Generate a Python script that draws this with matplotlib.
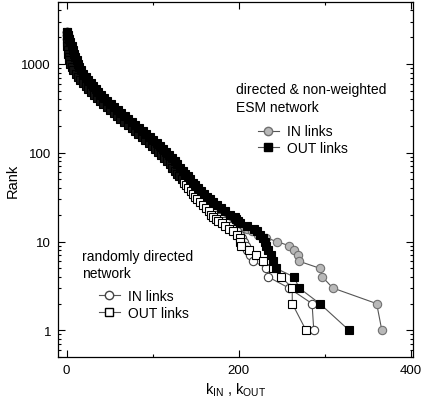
import matplotlib
matplotlib.use("Agg")
import matplotlib.pyplot as plt
from matplotlib.lines import Line2D
from matplotlib.ticker import FixedLocator, FixedFormatter, LogLocator, NullFormatter

plt.rcParams['font.family'] = ['Liberation Sans', 'DejaVu Sans']

#%% data: rank vs degree
# shared rank grid for the dense part of the curve
rank_dense = [2300, 2100, 1900, 1750, 1600, 1450, 1300, 1200, 1100, 1000,
              920, 850, 780, 720, 660, 610, 560, 520, 480, 445,
              410, 380, 350, 325, 300, 280, 260, 240, 222, 205,
              190, 175, 162, 150, 139, 128, 118, 110, 102, 94,
              87, 80, 74, 68, 63, 58, 54, 50, 46, 43,
              40, 37, 34, 32, 30, 28, 26, 24, 22, 20]
# tail ranks 19 .. 1
rank_tail = [19, 18, 17, 16, 15, 14, 13, 12, 11, 10, 9, 8, 7, 6, 5, 4, 3, 2, 1]

# directed & non-weighted ESM network
esm_in_dense = [0.5, 1.3, 2.2, 3.2, 4.5, 5.8, 7.2, 8.2, 9.5, 11,
                12.5, 14.5, 17, 19.5, 22.5, 25.5, 28.5, 31.5, 34.5, 38,
                41.5, 45, 49, 53, 57, 61, 65, 69, 73, 77.5,
                82, 86, 90, 94, 98, 102, 106, 109.5, 113, 116.5,
                120, 123, 126, 129.5, 132.5, 135.5, 138.5, 141.5, 144.5, 147.5,
                150, 153.5, 157, 160, 163, 166, 170, 174, 179, 184]
esm_in_tail = [188, 192, 196, 200, 204, 209, 215, 222, 232, 244,
               258, 264, 269, 270, 294, 297, 309, 360, 366]

esm_out_dense = [1, 2, 3.2, 4.5, 6, 7.5, 9.2, 10.2, 12, 13.5,
                 15, 17, 19.5, 22, 25, 28, 31, 34, 37, 40.5,
                 44, 47.5, 51.5, 55.5, 59.5, 63.5, 67.5, 71.5, 75.5, 80,
                 84.5, 88.5, 92.5, 96.5, 100.5, 104.5, 108.5, 112, 115.5, 119,
                 122.5, 125.5, 128.5, 132, 135, 138, 140.5, 143.5, 146.5, 149.5,
                 153, 156.5, 160, 163, 166, 170, 175, 179, 184, 190]
esm_out_tail = [195, 197, 199, 201, 210, 218, 221, 225, 228, 230,
                232, 234, 237, 240, 243, 264, 270, 294, 328]

# randomly directed network
rnd_in_dense = [0, 0.2, 0.6, 1.1, 1.8, 2.5, 3.4, 4.2, 5.5, 7,
                8.5, 10.5, 13, 15.5, 18.5, 21.5, 24.5, 27.5, 30.5, 34,
                37.5, 41, 45, 49, 53, 57, 61, 65, 69, 73.5,
                78, 82, 86, 90, 94, 98, 102, 105.5, 109, 112.5,
                116, 119, 122, 125.5, 128, 131, 133.5, 136, 139, 142,
                144.5, 148, 151, 153.5, 156, 159, 162, 166, 170, 174]
rnd_in_tail = [177, 180, 183, 186, 190, 194, 198, 201, 204, 206,
               208, 210, 213, 217, 232, 234, 258, 285, 287]

rnd_out_dense = [0, 0, 0, 0.2, 0.6, 1.1, 1.8, 2.4, 3.2, 4.5,
                 6, 8, 10.5, 13, 16, 19, 22, 25, 28, 31.5,
                 35, 38.5, 42.5, 46.5, 50.5, 54.5, 58.5, 62.5, 66.5, 71,
                 75.5, 79.5, 83.5, 87.5, 91.5, 95.5, 99.5, 103, 106.5, 110,
                 113.5, 116.5, 119.5, 122.5, 125.5, 128.5, 131, 133.5, 136, 139,
                 141.5, 144, 146.5, 149, 152, 155, 158, 162, 165, 168]
rnd_out_tail = [170, 173, 176, 180, 184, 188, 193, 198, 201, 201,
                203, 212, 220, 228, 240, 249, 262, 262, 278]

ranks = rank_dense + rank_tail

#%% figure
fig = plt.figure(figsize=(4.23, 4.06), dpi=100)
ax = fig.add_axes([0.137, 0.118, 0.839, 0.875])

ms = 6
lw = 0.8


def draw(k, marker, mfc, mec, cut, size, z):
    # thin connecting line, then markers; the crowded upper part merges into black
    ax.plot(k, ranks, '-', color='#555555', lw=lw, zorder=z)
    ax.plot(k[:cut], ranks[:cut], marker, ls='none', ms=size, mfc='#111111',
            mec='black', mew=0.8, zorder=z)
    ax.plot(k[cut:], ranks[cut:], marker, ls='none', ms=size, mfc=mfc,
            mec=mec, mew=0.8, zorder=z)


draw(esm_in_dense + esm_in_tail, 'o', '#b8b8b8', '#707070', 52, ms, 2)
draw(rnd_in_dense + rnd_in_tail, 'o', 'white', '#444444', 48, ms, 3)
draw(rnd_out_dense + rnd_out_tail, 's', 'white', 'black', 48, ms - 0.5, 4)
draw(esm_out_dense + esm_out_tail, 's', 'black', 'black', 0, ms - 0.3, 5)

ax.set_yscale('log')
ax.set_xlim(-10, 402)
ax.set_ylim(0.5, 5000)

ax.xaxis.set_major_locator(FixedLocator([0, 200, 400]))
ax.xaxis.set_minor_locator(FixedLocator([100, 300]))
ax.yaxis.set_major_locator(FixedLocator([1, 10, 100, 1000]))
ax.yaxis.set_major_formatter(FixedFormatter(['1', '10', '100', '1000']))
ax.yaxis.set_minor_locator(LogLocator(base=10, subs=range(2, 10)))
ax.yaxis.set_minor_formatter(NullFormatter())

ax.tick_params(which='both', direction='in', top=True, right=True, width=0.8,
               labelsize=9.5, pad=5)
ax.tick_params(which='major', length=5)
ax.tick_params(which='minor', length=2.5)
for s in ax.spines.values():
    s.set_linewidth(0.9)

ax.set_ylabel('Rank', fontsize=10.5, labelpad=1)
ax.set_xlabel(r'k$_{\mathregular{IN}}$ , k$_{\mathregular{OUT}}$', fontsize=10.5, labelpad=3)

# legend headings
ax.text(0.501, 0.755, 'directed & non-weighted', transform=ax.transAxes,
        fontsize=10, va='center', ha='left')
ax.text(0.501, 0.704, 'ESM network', transform=ax.transAxes,
        fontsize=10, va='center', ha='left')
ax.text(0.068, 0.285, 'randomly directed', transform=ax.transAxes,
        fontsize=10, va='center', ha='left')
ax.text(0.068, 0.237, 'network', transform=ax.transAxes,
        fontsize=10, va='center', ha='left')

h_ei = Line2D([], [], color='#555555', lw=lw, marker='o', ms=ms, mfc='#b8b8b8', mec='#707070')
h_eo = Line2D([], [], color='#555555', lw=lw, marker='s', ms=ms - 0.3, mfc='black', mec='black')
h_ri = Line2D([], [], color='#555555', lw=lw, marker='o', ms=ms, mfc='white', mec='#444444')
h_ro = Line2D([], [], color='#555555', lw=lw, marker='s', ms=ms - 0.5, mfc='white', mec='black')

leg_kw = dict(loc='upper left', frameon=False, fontsize=10, handlelength=1.5,
              handletextpad=0.6, labelspacing=0.2, borderpad=0, borderaxespad=0,
              numpoints=1)
leg1 = ax.legend([h_ei, h_eo], ['IN links', 'OUT links'],
                 bbox_to_anchor=(0.563, 0.655), **leg_kw)
ax.add_artist(leg1)
ax.legend([h_ri, h_ro], ['IN links', 'OUT links'],
          bbox_to_anchor=(0.115, 0.192), **leg_kw)

fig.savefig('out.png', dpi=100)
